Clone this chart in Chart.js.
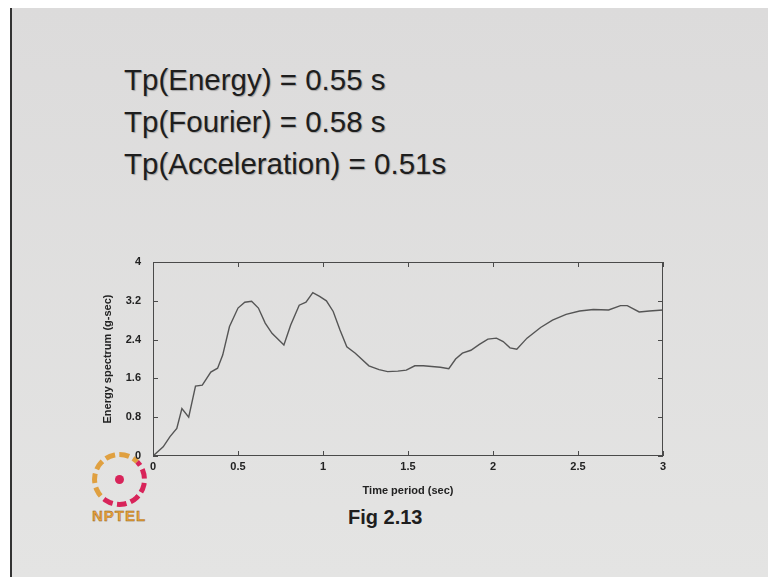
<!DOCTYPE html>
<html lang="en">
<head>
  <meta charset="UTF-8">
  <title>Fig 2.13 – Energy spectrum</title>
  <script src="https://cdn.jsdelivr.net/npm/chart.js@4.4.0/dist/chart.umd.min.js"></script>
  <style>
    html, body { margin: 0; padding: 0; background: #fff; width: 768px; height: 577px; overflow: hidden; }
    body { font-family: "Liberation Sans", Arial, sans-serif; position: relative; }
    #slide { position: absolute; left: 10px; top: 8px; right: 0; bottom: 0;
             background: linear-gradient(#dcdbdb, #e4e4e3); border-left: 2px solid #333; }
    .tp { position: absolute; left: 124px; font-size: 29.5px; line-height: 42px; color: #1e1e1e;
          text-shadow: 1px 1px 1px rgba(0,0,0,0.25); white-space: nowrap; }
    #fig { position: absolute; left: 348px; top: 506px; font-size: 20px; font-weight: bold; color: #1e1e1e; }
    #logo { position: absolute; left: 92px; top: 452px; width: 45px; height: 45px; border-radius: 50%;
            border: 5px dashed #e0a040; border-right-color: #d8245a; border-bottom-color: #d8245a; }
    #logo::after { content: ""; position: absolute; left: 18px; top: 18px; width: 9px; height: 9px;
                   border-radius: 50%; background: #d8245a; }
    #nptel { position: absolute; left: 92px; top: 507px; font-size: 15px; font-weight: bold; letter-spacing: 1px;
             color: #eba23a; -webkit-text-stroke: 0.4px #8a5a1a; }
    #chart { position: absolute; left: 0; top: 0; }
  </style>
</head>
<body>
  <div id="slide"></div>
  <div class="tp" style="top:59px">Tp(Energy) = 0.55 s</div>
  <div class="tp" style="top:101px">Tp(Fourier) = 0.58 s</div>
  <div class="tp" style="top:143px">Tp(Acceleration) = 0.51s</div>
  <div id="logo"></div>
  <div id="nptel">NPTEL</div>
  <div id="fig">Fig 2.13</div>
  <canvas id="chart" width="768" height="577"></canvas>

<script>
  // time period (sec) and energy spectrum (g-sec)
  const periods = [0, 0.06, 0.10, 0.14, 0.17, 0.21, 0.25, 0.29, 0.34, 0.38,
                   0.41, 0.45, 0.50, 0.54, 0.58, 0.62, 0.66, 0.70, 0.77, 0.81,
                   0.86, 0.90, 0.94, 0.98, 1.02, 1.06, 1.10, 1.14, 1.19, 1.27,
                   1.33, 1.38, 1.44, 1.49, 1.54, 1.59, 1.69, 1.74, 1.78, 1.82,
                   1.87, 1.92, 1.97, 2.02, 2.06, 2.10, 2.14, 2.20, 2.28, 2.35,
                   2.43, 2.51, 2.59, 2.68, 2.75, 2.79, 2.86, 2.92, 3.00];
  const energy  = [0, 0.19, 0.40, 0.57, 0.98, 0.80, 1.44, 1.46, 1.73, 1.81,
                   2.08, 2.67, 3.05, 3.17, 3.19, 3.05, 2.74, 2.53, 2.29, 2.70,
                   3.11, 3.17, 3.37, 3.29, 3.20, 2.98, 2.60, 2.25, 2.12, 1.86,
                   1.78, 1.74, 1.75, 1.77, 1.86, 1.86, 1.83, 1.80, 2.00, 2.12,
                   2.18, 2.30, 2.41, 2.43, 2.36, 2.23, 2.20, 2.43, 2.65, 2.80,
                   2.92, 2.99, 3.02, 3.01, 3.10, 3.10, 2.97, 2.99, 3.01];
  const xTicks = [0, 0.5, 1, 1.5, 2, 2.5, 3];
  const yTicks = [0, 0.8, 1.6, 2.4, 3.2, 4];

  const axisColor = '#4a4a4a';
  const tickFont = { family: 'Liberation Sans', size: 11, weight: 'bold' };

  // matlab-style box with inward ticks
  const boxTicks = {
    id: 'boxTicks',
    afterDatasetsDraw(chart) {
      const { ctx, chartArea: a, scales: { x, y } } = chart;
      ctx.save();
      ctx.strokeStyle = axisColor;
      ctx.lineWidth = 1;
      ctx.strokeRect(a.left + 0.5, a.top + 0.5, a.width - 1, a.height - 1);
      ctx.beginPath();
      x.ticks.forEach(t => {
        const px = Math.round(x.getPixelForValue(t.value)) + 0.5;
        ctx.moveTo(px, a.bottom); ctx.lineTo(px, a.bottom - 5);
        ctx.moveTo(px, a.top); ctx.lineTo(px, a.top + 5);
      });
      y.ticks.forEach(t => {
        const py = Math.round(y.getPixelForValue(t.value)) + 0.5;
        ctx.moveTo(a.left, py); ctx.lineTo(a.left + 5, py);
        ctx.moveTo(a.right, py); ctx.lineTo(a.right - 5, py);
      });
      ctx.stroke();
      ctx.restore();
    }
  };

  new Chart(document.getElementById('chart'), {
    type: 'line',
    data: {
      datasets: [{
        data: periods.map((p, i) => ({ x: p, y: energy[i] })),
        borderColor: '#555',
        borderWidth: 1.4,
        pointRadius: 0,
        tension: 0,
        fill: false
      }]
    },
    options: {
      responsive: false,
      animation: false,
      layout: { padding: { left: 93, top: 262, right: 105, bottom: 76 } },
      plugins: { legend: { display: false }, tooltip: { enabled: false } },
      scales: {
        x: {
          type: 'linear', min: 0, max: 3,
          afterFit: s => { s.height = 45; },
          afterBuildTicks: s => { s.ticks = xTicks.map(v => ({ value: v })); },
          grid: { display: false, drawTicks: false },
          border: { display: false },
          ticks: { font: tickFont, color: '#222', padding: 4, maxRotation: 0,
                   callback: v => String(+v.toFixed(2)) },
          title: { display: true, text: 'Time period (sec)', font: tickFont, color: '#222',
                   padding: { top: 4, bottom: 3 } }
        },
        y: {
          min: 0, max: 4,
          afterFit: s => { s.width = 60; },
          afterBuildTicks: s => { s.ticks = yTicks.map(v => ({ value: v })); },
          grid: { display: false, drawTicks: false },
          border: { display: false },
          ticks: { font: tickFont, color: '#222', padding: 12,
                   callback: v => String(+v.toFixed(1)) },
          title: { display: true, text: 'Energy spectrum (g-sec)', font: tickFont, color: '#222',
                   padding: { top: 8, bottom: 4 } }
        }
      }
    },
    plugins: [boxTicks]
  });
</script>
</body>
</html>
